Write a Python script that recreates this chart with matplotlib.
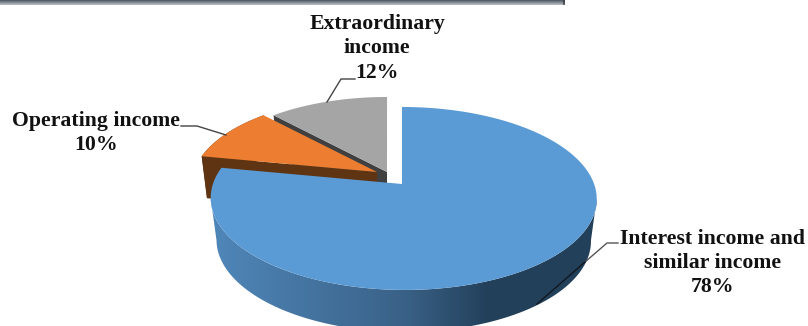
import numpy as np
import matplotlib
matplotlib.use("Agg")
import matplotlib.pyplot as plt
from matplotlib.colors import LinearSegmentedColormap
from matplotlib.patches import Polygon

categories = ["Interest income and\nsimilar income", "Operating income", "Extraordinary\nincome"]
shares = [78, 10, 12]
top_colors = ["#5b9bd5", "#ed7d31", "#a5a5a5"]
side_colors = ["#3a6288", "#5f3413", "#404040"]

W, H = 808, 326
APEX_X, APEX_Y = 402, 184
DEPTH = 42
K = 0.158
A, B = 190.6, 89.2
# how far each slice is pulled away from the pie, in pixels, and its radius
pull = [(0, 0), (-25, -12), (-15, -12)]
radius = [1.0, 0.97, 0.97]

plt.rcParams["font.family"] = ["Liberation Serif", "DejaVu Serif"]
fig = plt.figure(figsize=(W / 100, H / 100), dpi=100)
ax = fig.add_axes([0, 0, 1, 1])
ax.set_xlim(0, W)
ax.set_ylim(H, 0)
ax.axis("off")


def project(theta, i=0, depth=0.0):
    # theta runs clockwise from 12 o'clock, perspective makes the far side smaller
    u = radius[i] * np.sin(theta)
    v = radius[i] * np.cos(theta)
    w = 1 + K * v
    squeeze = 1 - 0.03 * depth / DEPTH
    lean = 1.5 * (1 - v)
    x = APEX_X + pull[i][0] + squeeze * A * u / w + lean
    y = APEX_Y + pull[i][1] - B * v / w + depth
    return np.column_stack([x, y])


fractions = np.array(shares) / sum(shares)
edges = np.concatenate([[0], np.cumsum(fractions)]) * 2 * np.pi


def apex_of(i):
    return np.array([[APEX_X + pull[i][0], APEX_Y + pull[i][1]]])


def wedge_outline(i):
    arc = np.linspace(edges[i], edges[i + 1], 120)
    return np.vstack([apex_of(i), project(arc, i)])


def draw_flat_side(i, theta, z):
    # cut face of a slice, running from the tip down to the centre
    t = np.array([theta])
    ax.add_patch(Polygon(np.vstack([apex_of(i), project(t, i), project(t, i, DEPTH), apex_of(i) + [0, DEPTH]]),
                         fc=side_colors[i], ec="none", zorder=z))


# grey slice
draw_flat_side(2, edges[2], 1)
ax.add_patch(Polygon(wedge_outline(2), fc=top_colors[2], ec="none", zorder=2))

# orange slice, rim first and then the cut face
arc = np.linspace(edges[1], edges[2], 60)
ax.add_patch(Polygon(np.vstack([project(arc, 1), project(arc, 1, DEPTH)[::-1]]),
                     fc=side_colors[1], ec="none", zorder=3))
draw_flat_side(1, edges[1], 3)
ax.add_patch(Polygon(wedge_outline(1), fc=top_colors[1], ec="none", zorder=4))

# blue rim, a horizontal gradient clipped to the outline between the two side tangents
shade = LinearSegmentedColormap.from_list(
    "rim", [(0, "#5088bb"), (0.5, "#3a6288"), (0.72, "#23405a"), (1, "#23405a")])
arc = np.linspace(np.pi * 0.55, np.pi * 1.45, 400)
rim = Polygon(np.vstack([project(arc), project(arc, 0, DEPTH)[::-1]]), fc="none", ec="none",
              transform=ax.transData)
ax.add_patch(rim)
rim_image = ax.imshow(np.linspace(0, 1, 256).reshape(1, -1), extent=(205, 600, H + 30, 150), aspect="auto",
                      cmap=shade, zorder=5)
rim_image.set_clip_path(rim)

ax.add_patch(Polygon(wedge_outline(0), fc=top_colors[0], ec="none", zorder=6))

# header strip cut off at the top edge
strip = np.linspace(0, 1, 5).reshape(-1, 1)
ax.imshow(strip, extent=(0, 565, 5, 0), aspect="auto", zorder=7,
          cmap=LinearSegmentedColormap.from_list("strip", ["#555d6a", "#b4b9c0"]))
ax.plot([564, 564], [0, 4], color="#3c4048", lw=1.2, zorder=8)
ax.set_xlim(0, W)
ax.set_ylim(H, 0)

# leader lines
ax.plot([618, 607, 585], [243, 243, 262], color="#555555", lw=1, zorder=8)
ax.plot([585, 537], [262, 304], color="#101820", lw=1, zorder=8)
ax.plot([181, 197, 226], [126, 126, 135], color="#444444", lw=1, zorder=8)
ax.plot([327, 341, 355], [102, 79, 79], color="#444444", lw=1, zorder=8)

label_style = dict(fontsize=15.7, fontweight="bold", color="#111111", ha="center", va="center",
                   linespacing=1.3, zorder=9)
ax.text(713, 263, f"{categories[0]}\n{shares[0]}%", **label_style)
ax.text(96, 133, f"{categories[1]}\n{shares[1]}%", **label_style)
ax.text(377, 48, f"{categories[2]}\n{shares[2]}%", **label_style)

fig.savefig("out.png", dpi=100)
